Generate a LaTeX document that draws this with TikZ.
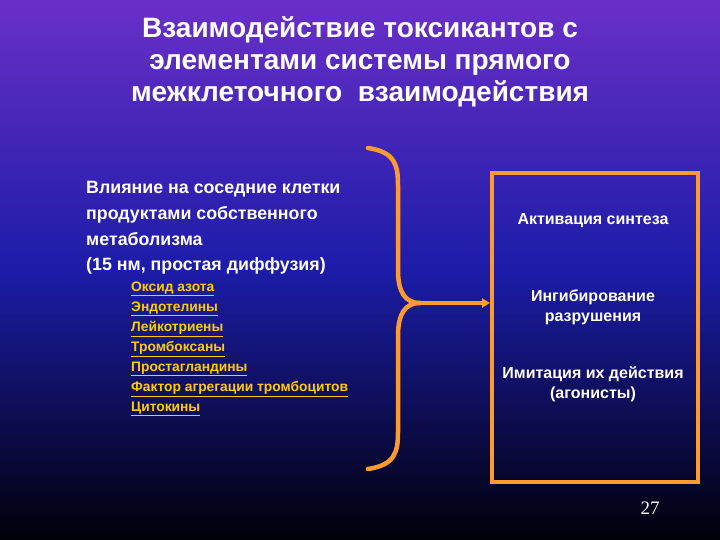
\documentclass[tikz,border=0pt]{standalone}
\usepackage{fontspec}
\usetikzlibrary{arrows.meta}
\setmainfont{Liberation Sans}
\newfontfamily\serifnum{Liberation Serif}
\definecolor{topc}{HTML}{6A2FC8}
\definecolor{midc}{HTML}{1C1CA8}
\definecolor{botc}{HTML}{000008}
\definecolor{orng}{HTML}{FF9A2E}
\definecolor{yel}{HTML}{FFCC00}
\begin{document}
\begin{tikzpicture}[x=1pt,y=-1pt,
  txt/.style={text=white,font=\bfseries,align=center},
  item/.style={text=yel,font=\bfseries\fontsize{13.8}{15}\selectfont,anchor=west,inner sep=0pt},
  brc/.style={draw=orng,line width=4.5pt,line cap=round}]
\shade[top color=topc,bottom color=botc,middle color=midc,shading angle=0] (0,0) rectangle (720,540);
\useasboundingbox (0,0) rectangle (720,540);
\node[txt,font=\bfseries\fontsize{28}{32}\selectfont] (title) at (360,62) {Взаимодействие токсикантов с\\элементами системы прямого\\межклеточного\ \ взаимодействия};
\node[text=white,font=\bfseries\fontsize{17.8}{25.7}\selectfont,align=left,anchor=west,inner sep=0pt] (main) at (86,228) {Влияние на соседние клетки\\продуктами собственного\\метаболизма\\(15 нм, простая диффузия)};
\node[item] (i1) at (131,289) {\underline{Оксид азота}};
\node[item] (i2) at (131,309) {\underline{Эндотелины}};
\node[item] (i3) at (131,329) {\underline{Лейкотриены}};
\node[item] (i4) at (131,349) {\underline{Тромбоксаны}};
\node[item] (i5) at (131,369) {\underline{Простагландины}};
\node[item] (i6) at (131,389) {\underline{Фактор агрегации тромбоцитов}};
\node[item] (i7) at (131,409) {\underline{Цитокины}};
\coordinate (btop) at (368,148);
\coordinate (bbot) at (368,469);
\coordinate (bmid) at (420,303);
\draw[brc] (btop) .. controls (395,152) and (398,165) .. (398,185) -- (398,270) .. controls (398,292) and (405,303) .. (bmid);
\draw[brc] (bbot) .. controls (395,465) and (398,452) .. (398,432) -- (398,336) .. controls (398,314) and (405,303) .. (bmid);
\node[draw=orng,line width=4pt,minimum width=206pt,minimum height=309pt,anchor=north west] (box) at (490,171) {};
\draw[brc,line cap=butt,-{Triangle[length=8pt,width=9pt]}] (bmid) -- (box.west|-bmid);
\node[txt,font=\bfseries\fontsize{16}{20}\selectfont] (a1) at (593,221) {Активация синтеза};
\node[txt,font=\bfseries\fontsize{16}{20}\selectfont] (a2) at (593,307) {Ингибирование\\разрушения};
\node[txt,font=\bfseries\fontsize{16}{20}\selectfont] (a3) at (593,384) {Имитация их действия\\(агонисты)};
\node[text=white,font=\serifnum\fontsize{19}{19}\selectfont] (num) at (650,508) {27};
\end{tikzpicture}
\end{document}
